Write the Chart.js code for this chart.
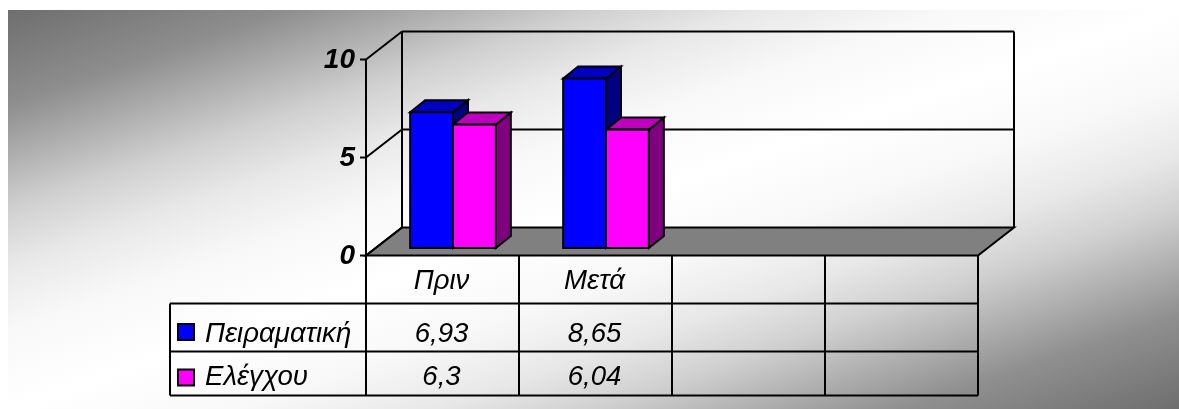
<!DOCTYPE html>
<html>
<head>
<meta charset="utf-8">
<style>
  html, body { margin: 0; padding: 0; background: #fff; }
  #wrap { position: absolute; left: 0; top: 0; width: 1179px; height: 409px; overflow: hidden; }
  #panel { position: absolute; left: 8px; top: 10px; right: 0; bottom: 0;
           background: linear-gradient(to bottom right, #6e6e6e 0%, #8e8e8e 12%, #d0d0d0 25%, #e8e8e8 32%,
               #f8f8f8 40%, #ffffff 50%, #f8f8f8 60%, #e8e8e8 68%, #d0d0d0 75%, #909090 88%, #6e6e6e 100%); }
  canvas { position: absolute; left: 0; top: 0; }
</style>
<script src="https://cdn.jsdelivr.net/npm/chart.js@4"></script>
</head>
<body>
<div id="wrap">
  <div id="panel"></div>
  <canvas id="myChart" width="1179" height="409"></canvas>
</div>
<script>
// Chart data
const categories = ['Πριν', 'Μετά', '', ''];
const seriesNames = ['Πειραματική', 'Ελέγχου'];
const peiramatiki = [6.93, 8.65, null, null];
const elegxou = [6.3, 6.04, null, null];
const valueLabels = [['6,93', '8,65', '', ''], ['6,3', '6,04', '', '']];
const yTicks = [0, 5, 10];

// Box look
const frontColors = ['#0000ff', '#ff00ff'];
const topColors = ['#0000c0', '#c000c0'];
const sideColors = ['#000080', '#800080'];

const FONT = '"Liberation Sans", Arial, sans-serif';
const barDepth = { x: 15, y: 12 };      // how far a bar goes back
const wallDepth = { x: 36, y: 28 };     // full depth of the floor
const frontShift = { x: 10.5, y: 7.5 }; // bars stand a little behind the front edge

function line(ctx, x1, y1, x2, y2) {
    ctx.beginPath();
    ctx.moveTo(x1, y1);
    ctx.lineTo(x2, y2);
    ctx.stroke();
}

function poly(ctx, pts, fill) {
    ctx.beginPath();
    pts.forEach((p, i) => i ? ctx.lineTo(p[0], p[1]) : ctx.moveTo(p[0], p[1]));
    ctx.closePath();
    ctx.fillStyle = fill;
    ctx.fill();
    ctx.stroke();
}

function eachBar(chart, fn) {
    chart.data.datasets.forEach((ds, i) => {
        chart.getDatasetMeta(i).data.forEach((bar, j) => {
            if (ds.data[j] == null) return;
            const half = bar.width / 2;
            fn(i, bar.x - half, bar.x + half, bar.y, bar.base);
        });
    });
}

// Floor, walls and gridlines behind the bars
const wallsPlugin = {
    id: 'walls',
    beforeDatasetsDraw(chart) {
        const ctx = chart.ctx, y = chart.scales.y, a = chart.chartArea;
        const fl = a.left - frontShift.x, fr = a.right - frontShift.x;
        const bl = fl + wallDepth.x, br = fr + wallDepth.x;
        const front0 = y.getPixelForValue(0) + frontShift.y;
        const dy = wallDepth.y;
        ctx.save();
        ctx.strokeStyle = '#000';
        ctx.lineWidth = 2;
        poly(ctx, [[fl, front0], [bl, front0 - dy], [br, front0 - dy], [fr, front0]], '#808080');
        yTicks.forEach(v => {
            const py = y.getPixelForValue(v) + frontShift.y;
            line(ctx, fl - 6, py, fl, py);
            line(ctx, fl, py, bl, py - dy);
            if (v > 0) line(ctx, bl, py - dy, br, py - dy);
        });
        const top = y.getPixelForValue(10) + frontShift.y;
        line(ctx, fl, top, fl, front0);
        line(ctx, bl, top - dy, bl, front0 - dy);
        line(ctx, br, top - dy, br, front0 - dy);

        // depth faces of the bars, blue series first so magenta lands on top
        eachBar(chart, (i, l, r, t, b) => {
            const dx = barDepth.x, d = barDepth.y;
            poly(ctx, [[r, t], [r + dx, t - d], [r + dx, b - d], [r, b]], sideColors[i]);
            poly(ctx, [[l, t], [l + dx, t - d], [r + dx, t - d], [r, t]], topColors[i]);
        });
        ctx.restore();
    }
};

// Bar outlines, axis numbers and the data table under the floor
const tablePlugin = {
    id: 'dataTable',
    afterDatasetsDraw(chart) {
        const ctx = chart.ctx, x = chart.scales.x, y = chart.scales.y, a = chart.chartArea;
        const fl = a.left - frontShift.x, fr = a.right - frontShift.x;
        const front0 = y.getPixelForValue(0) + frontShift.y;
        const cellW = (fr - fl) / categories.length;
        const tableLeft = 170, rowTop = 303.5, rowH = 48, bottom = 395.5;
        const rowMid = [281, 334, 377];
        const keyMid = [332, 377.5];
        ctx.save();
        ctx.strokeStyle = '#000';
        ctx.lineWidth = 2;

        eachBar(chart, (i, l, r, t, b) => ctx.strokeRect(l, t, r - l, b - t));

        // grid of the table
        for (let i = 0; i <= categories.length; i++) {
            line(ctx, fl + i * cellW, front0, fl + i * cellW, bottom);
        }
        line(ctx, tableLeft, rowTop, fr, rowTop);
        line(ctx, tableLeft, rowTop + rowH, fr, rowTop + rowH);
        line(ctx, tableLeft, bottom, fr, bottom);
        line(ctx, tableLeft, rowTop, tableLeft, bottom);

        ctx.fillStyle = '#000';
        ctx.textBaseline = 'middle';

        // value axis
        ctx.font = 'italic bold 28px ' + FONT;
        ctx.textAlign = 'right';
        yTicks.forEach(v => {
            ctx.fillText(String(v), fl - 11, y.getPixelForValue(v) + frontShift.y + 1);
        });

        // table text
        ctx.font = 'italic 27.6px ' + FONT;
        ctx.textAlign = 'center';
        categories.forEach((c, i) => {
            const cx = x.getPixelForValue(i) - frontShift.x - 1;
            ctx.fillText(c, cx, rowMid[0]);
            ctx.fillText(valueLabels[0][i], cx, rowMid[1]);
            ctx.fillText(valueLabels[1][i], cx, rowMid[2]);
        });
        ctx.textAlign = 'left';
        seriesNames.forEach((name, i) => {
            ctx.fillText(name, 205, rowMid[i + 1]);
            ctx.fillStyle = frontColors[i];
            ctx.fillRect(178, keyMid[i] - 8, 16, 16);
            ctx.strokeRect(178, keyMid[i] - 8, 16, 16);
            ctx.fillStyle = '#000';
        });
        ctx.restore();
    }
};

const ctx = document.getElementById('myChart').getContext('2d');
const chart = new Chart(ctx, {
    type: 'bar',
    data: {
        labels: categories,
        datasets: seriesNames.map((name, i) => ({
            label: name,
            data: i === 0 ? peiramatiki : elegxou,
            backgroundColor: frontColors[i],
            borderWidth: 0,
            categoryPercentage: 0.56,
            barPercentage: 1
        }))
    },
    options: {
        responsive: false,
        animation: false,
        layout: { padding: { left: 376.5, right: 190.5, top: 52, bottom: 161 } },
        plugins: { legend: { display: false }, tooltip: { enabled: false } },
        scales: {
            x: { display: false },
            y: { display: false, min: 0, max: 10 }
        }
    },
    plugins: [wallsPlugin, tablePlugin]
});
</script>
</body>
</html>
